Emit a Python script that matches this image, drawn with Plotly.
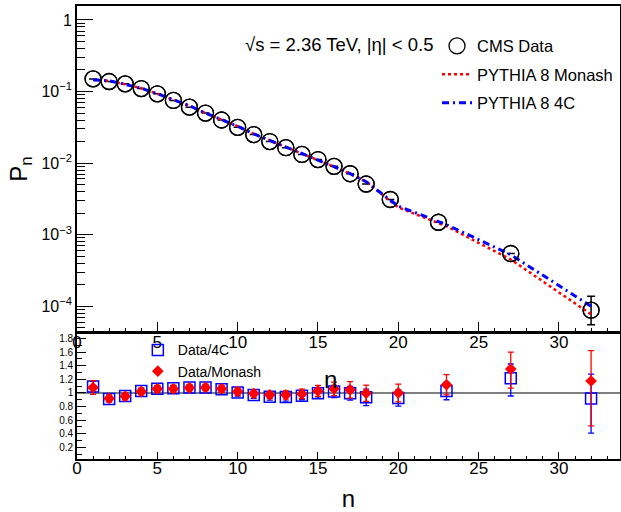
import plotly.graph_objects as go

# ---------------- data ----------------
n_data = [1, 2, 3, 4, 5, 6, 7, 8, 9, 10, 11, 12, 13, 14, 15, 16, 17, 18, 19.5, 22.5, 27, 32]
p_data = [0.150, 0.138, 0.128, 0.110, 0.093, 0.075, 0.0605, 0.050, 0.040, 0.0316,
          0.025, 0.020, 0.0164, 0.0132, 0.0112, 0.0090, 0.0071, 0.0051,
          0.0031, 0.00149, 0.000545, 0.000088]
p_err_up = [0, 0, 0, 0, 0, 0, 0, 0, 0, 0, 0, 0, 0, 0, 0, 0, 0, 0, 0, 0, 0, 0.000050]
p_err_dn = [0, 0, 0, 0, 0, 0, 0, 0, 0, 0, 0, 0, 0, 0, 0, 0, 0, 0, 0, 0, 0, 0.000033]

n_mc = [1, 2, 3, 4, 5, 6, 7, 8, 9, 10, 11, 12, 13, 14, 15, 16, 17, 18, 20, 23, 27, 32]
p_monash = [0.146, 0.141, 0.126, 0.111, 0.093, 0.0763, 0.0632, 0.050, 0.0409, 0.0327,
            0.0256, 0.0208, 0.0169, 0.0135, 0.0109, 0.0089, 0.0071, 0.0055,
            0.0024, 0.00131, 0.00045, 0.000077]
p_4c = [0.146, 0.141, 0.126, 0.111, 0.093, 0.0763, 0.0632, 0.050, 0.0409, 0.0327,
        0.0256, 0.0208, 0.0169, 0.0135, 0.0109, 0.0089, 0.0071, 0.0055,
        0.0025, 0.00138, 0.000525, 0.000100]

n_ratio = [1, 2, 3, 4, 5, 6, 7, 8, 9, 10, 11, 12, 13, 14, 15, 16, 17, 18, 20, 23, 27, 32]
r_4c = [1.093, 0.91, 0.955, 1.03, 1.06, 1.07, 1.08, 1.08, 1.055, 1.005, 0.97, 0.945,
        0.94, 0.96, 0.995, 1.02, 0.995, 0.935, 0.925, 1.03, 1.215, 0.92]
r_4c_up = [0.08, 0.04, 0.04, 0.04, 0.04, 0.04, 0.04, 0.04, 0.04, 0.05, 0.05, 0.05,
           0.06, 0.06, 0.07, 0.09, 0.10, 0.12, 0.12, 0.13, 0.21, 0.355]
r_4c_dn = [0.08, 0.04, 0.04, 0.04, 0.04, 0.04, 0.04, 0.04, 0.04, 0.05, 0.05, 0.05,
           0.06, 0.06, 0.07, 0.09, 0.10, 0.12, 0.12, 0.13, 0.26, 0.51]
r_monash = [1.08, 0.92, 0.95, 1.02, 1.06, 1.06, 1.075, 1.08, 1.06, 1.02, 0.99, 0.97,
            0.97, 0.985, 1.03, 1.06, 1.045, 0.995, 1.0, 1.12, 1.35, 1.175]
r_mon_up = [0.10, 0.05, 0.05, 0.05, 0.05, 0.05, 0.05, 0.05, 0.05, 0.05, 0.05, 0.05,
            0.06, 0.07, 0.08, 0.10, 0.12, 0.12, 0.13, 0.15, 0.25, 0.445]
r_mon_dn = [0.10, 0.05, 0.05, 0.05, 0.05, 0.05, 0.05, 0.05, 0.05, 0.05, 0.05, 0.05,
            0.06, 0.07, 0.08, 0.10, 0.12, 0.12, 0.13, 0.15, 0.28, 0.66]

top_tickvals = [1e-4, 1e-3, 1e-2, 1e-1, 1]
top_ticktext = ["10<sup>−4</sup>", "10<sup>−3</sup>", "10<sup>−2</sup>", "10<sup>−1</sup>", "1"]
minor_log = [m * 10.0 ** e for e in range(-5, 1) for m in range(2, 10)]
x_major = [0, 5, 10, 15, 20, 25, 30]
ratio_ticks = [0.2, 0.4, 0.6, 0.8, 1, 1.2, 1.4, 1.6, 1.8]
ratio_ticktext = ["0.2", "0.4", "0.6", "0.8", "1", "1.2", "1.4", "1.6", "1.8"]

FONT = "Liberation Sans, Arial, Helvetica, sans-serif"
XR = [0, 33.8]

fig = go.Figure()

# ---------------- top panel ----------------
fig.add_trace(go.Scatter(
    x=n_data, y=p_data, mode="markers", name="CMS Data",
    marker=dict(symbol="circle-open", size=16, color="black", line=dict(width=1.3)),
    error_y=dict(type="data", array=p_err_up, arrayminus=p_err_dn, color="black",
                 thickness=1.5, width=4),
    xaxis="x", yaxis="y", legendgroup="a1", legend="legend"))
fig.add_trace(go.Scatter(
    x=n_mc, y=p_monash, mode="lines", name="PYTHIA 8 Monash",
    line=dict(color="#ff0000", width=2.5, dash="dot"),
    xaxis="x", yaxis="y", legendgroup="a2", legend="legend"))
fig.add_trace(go.Scatter(
    x=n_mc, y=p_4c, mode="lines", name="PYTHIA 8 4C",
    line=dict(color="#0000ff", width=3, dash="7px,4px,2px,4px"),
    xaxis="x", yaxis="y", legendgroup="a3", legend="legend"))
# redraw circles on top of curves (not in legend)
fig.add_trace(go.Scatter(
    x=n_data, y=p_data, mode="markers", showlegend=False, hoverinfo="skip",
    marker=dict(symbol="circle-open", size=16, color="black", line=dict(width=1.3)),
    xaxis="x", yaxis="y"))

# ---------------- bottom panel ----------------
fig.add_trace(go.Scatter(
    x=n_ratio, y=r_4c, mode="markers", name="Data/4C",
    marker=dict(symbol="square-open", size=11, color="#0000ff", line=dict(width=1.5)),
    error_y=dict(type="data", array=r_4c_up, arrayminus=r_4c_dn, color="#0000ff",
                 thickness=1.3, width=3),
    xaxis="x2", yaxis="y2", legend="legend2"))
fig.add_trace(go.Scatter(
    x=n_ratio, y=r_monash, mode="markers", name="Data/Monash",
    marker=dict(symbol="diamond", size=9, color="#ff0000"),
    error_y=dict(type="data", array=r_mon_up, arrayminus=r_mon_dn, color="#ff0000",
                 thickness=1.3, width=3),
    xaxis="x2", yaxis="y2", legend="legend2"))

# minor-tick helper axis (no data)
fig.add_trace(go.Scatter(x=[None], y=[None], xaxis="x", yaxis="y3", showlegend=False))

top_dom = [0.2804, 1.0]
bot_dom = [0.0, 0.2782]

axis_common = dict(showline=True, linecolor="black", linewidth=1.6, mirror=True,
                   showgrid=False, zeroline=False, ticks="inside", automargin=False,
                   tickcolor="black", tickfont=dict(family=FONT, size=17, color="black"))

fig.update_layout(
    width=621, height=512,
    margin=dict(l=77, r=1, t=6, b=53),
    paper_bgcolor="white", plot_bgcolor="rgba(0,0,0,0)",
    font=dict(family=FONT, color="black"),
    xaxis=dict(axis_common, domain=[0, 1], range=XR, anchor="y",
               tickvals=x_major, ticklen=10, tickwidth=1.3, ticklabelstandoff=-6,
               minor=dict(ticks="inside", dtick=1, ticklen=4, tickcolor="black", tickwidth=1.2)),
    yaxis=dict(axis_common, domain=top_dom, type="log", range=[-4.36, 0.195], anchor="x",
               tickvals=top_tickvals, ticktext=top_ticktext, ticklen=16, tickwidth=1.3,
               tickfont=dict(family=FONT, size=16, color="black"),
               title=dict(text="P<sub>n</sub>", font=dict(family=FONT, size=24), standoff=7)),
    yaxis3=dict(domain=top_dom, type="log", range=[-4.36, 0.195], overlaying="y",
                anchor="x", side="left", tickvals=minor_log, ticks="inside", ticklen=8,
                tickcolor="black", tickwidth=1.2, showticklabels=False, showgrid=False,
                zeroline=False, showline=False, automargin=False),
    xaxis2=dict(axis_common, domain=[0, 1], range=XR, anchor="y2",
                tickvals=x_major, ticklen=7, tickwidth=1.3, ticklabelstandoff=-7,
                minor=dict(ticks="inside", dtick=1, ticklen=3.5, tickcolor="black", tickwidth=1.2),
                title=dict(text="n", font=dict(family=FONT, size=24), standoff=15)),
    yaxis2=dict(axis_common, domain=bot_dom, range=[0.03, 1.88], anchor="x2",
                tickvals=ratio_ticks, ticktext=ratio_ticktext, ticklen=9, tickwidth=1.3,
                tickfont=dict(family=FONT, size=10, color="black"),
                minor=dict(ticks="inside", dtick=0.1, ticklen=5, tickcolor="black", tickwidth=1.2)),
    legend=dict(x=0.663, y=0.95, xanchor="left", yanchor="top",
                bgcolor="rgba(0,0,0,0)", font=dict(family=FONT, size=16.5, color="black"),
                traceorder="grouped", tracegroupgap=4, itemwidth=30),
    legend2=dict(x=0.112, y=0.275, xanchor="left", yanchor="top",
                 bgcolor="rgba(0,0,0,0)", font=dict(family=FONT, size=14, color="black"),
                 itemwidth=30, tracegroupgap=0),
    annotations=[
        dict(text="√s = 2.36 TeV, |η| < 0.5", xref="paper", yref="paper",
             x=0.305, y=0.914, xanchor="left", yanchor="middle", showarrow=False,
             font=dict(family=FONT, size=18.5, color="black")),
        dict(text="n", xref="paper", yref="paper", x=0.466, y=0.175,
             xanchor="center", yanchor="middle", showarrow=False,
             font=dict(family=FONT, size=24, color="black")),
    ],
    shapes=[dict(type="line", xref="x2 domain", yref="y2", x0=0, x1=1, y0=1, y1=1,
                 line=dict(color="#555555", width=1.5), layer="below")],
)

fig.write_html("out.html", config={"displayModeBar": False},
               post_script="document.body.style.margin='0';document.body.style.overflow='hidden';")
